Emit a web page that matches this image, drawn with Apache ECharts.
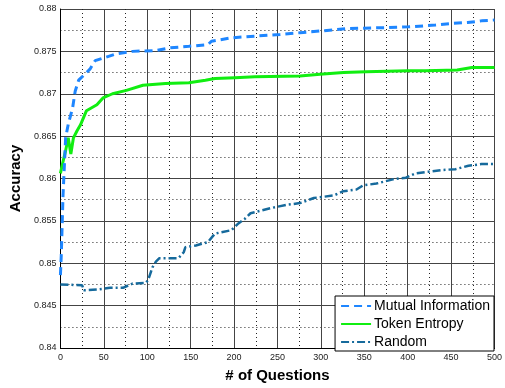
<!DOCTYPE html>
<html>
<head>
<meta charset="utf-8">
<script src="https://cdn.jsdelivr.net/npm/echarts@6/dist/echarts.min.js"></script>
<style>
  html, body { margin: 0; padding: 0; background: #fff; }
  #chart { width: 505px; height: 388px; }
</style>
</head>
<body>
<div id="chart"></div>
<script>
// Mutual Information
const miX = [0, 1, 3, 6, 9, 14, 17, 21, 26, 34, 40, 49, 64, 83, 110, 125, 148, 170, 174, 176, 197, 224, 253, 276, 299, 330, 375, 401, 432, 451, 469, 485, 500]
const miY = [0.8486, 0.851, 0.858, 0.8648, 0.8664, 0.8683, 0.8703, 0.8716, 0.8721, 0.8729, 0.8739, 0.8742, 0.8747, 0.8750, 0.8751, 0.8754, 0.8756, 0.8758, 0.8762, 0.8764, 0.8766, 0.8768, 0.8770, 0.8772, 0.8774, 0.8777, 0.8778, 0.8779, 0.8781, 0.8783, 0.8784, 0.8786, 0.8787]

// Token Entropy
const teX = [0, 3, 6, 9, 12, 15, 19, 23, 30, 42, 49, 60, 76, 95, 121, 148, 167, 178, 201, 224, 276, 299, 326, 352, 400, 420, 457, 474, 500]
const teY = [0.8606, 0.8620, 0.8633, 0.8648, 0.8629, 0.8648, 0.8656, 0.8663, 0.8680, 0.8687, 0.8695, 0.8700, 0.8704, 0.8710, 0.8712, 0.8713, 0.8716, 0.8718, 0.8719, 0.8720, 0.8721, 0.8723, 0.8725, 0.8726, 0.8727, 0.8727, 0.8728, 0.8731, 0.8731]

// Random
const rdX = [0, 25, 27, 42, 57, 72, 83, 99, 102, 106, 110, 114, 136, 142, 144, 156, 170, 178, 197, 205, 212, 219, 242, 261, 276, 292, 315, 326, 341, 349, 364, 383, 398, 409, 424, 440, 455, 470, 485, 500]
const rdY = [0.8475, 0.8474, 0.8468, 0.8469, 0.8471, 0.8471, 0.8476, 0.8477, 0.8483, 0.8495, 0.8502, 0.8506, 0.8506, 0.8513, 0.8519, 0.8521, 0.8525, 0.8535, 0.8539, 0.8547, 0.8552, 0.8559, 0.8565, 0.8569, 0.8571, 0.8577, 0.8580, 0.8585, 0.8587, 0.8592, 0.8594, 0.8599, 0.8601, 0.8606, 0.8608, 0.8610, 0.8611, 0.8615, 0.8617, 0.8617]

const seriesNames = ['Mutual Information', 'Token Entropy', 'Random']

function pairs(xs, ys) {
  return xs.map((x, i) => [x, ys[i]])
}

const font = 'Liberation Sans, Arial, Helvetica, sans-serif'

const chart = echarts.init(document.getElementById('chart'))

chart.setOption({
  animation: false,
  grid: { left: 60, right: 5, top: 9, bottom: 33, containLabel: false },
  xAxis: {
    type: 'value',
    min: 0,
    max: 500,
    interval: 50,
    name: '# of Questions',
    nameLocation: 'middle',
    nameGap: 20,
    nameTextStyle: { color: '#000', fontSize: 15, fontWeight: 'bold', fontFamily: font },
    axisLine: { lineStyle: { color: '#000', width: 1 } },
    axisTick: { show: false },
    axisLabel: { color: '#222', fontSize: 9, fontFamily: font, margin: 5 },
    splitLine: { show: true, lineStyle: { color: '#444', width: 1 } },
    minorTick: { show: false, splitNumber: 2 },
    minorSplitLine: { show: true, lineStyle: { color: '#222', width: 1, type: [1, 3] } },
  },
  yAxis: {
    type: 'value',
    min: 0.84,
    max: 0.88,
    interval: 0.005,
    name: 'Accuracy',
    nameLocation: 'middle',
    nameGap: 36,
    nameTextStyle: { color: '#000', fontSize: 15, fontWeight: 'bold', fontFamily: font },
    axisLine: { show: true, lineStyle: { color: '#000', width: 1 } },
    axisTick: { show: false },
    axisLabel: {
      color: '#222', fontSize: 9, fontFamily: font, margin: 4,
      formatter: v => String(parseFloat(v.toFixed(3))),
    },
    splitLine: { show: true, lineStyle: { color: '#444', width: 1 } },
    minorTick: { show: false, splitNumber: 2 },
    minorSplitLine: { show: true, lineStyle: { color: '#222', width: 1, type: [1, 3] } },
  },
  legend: {
    orient: 'vertical',
    right: 11,
    bottom: 37,
    itemWidth: 30,
    itemHeight: 10,
    itemGap: 4,
    padding: [3, 4, 2, 5],
    backgroundColor: '#fff',
    borderColor: '#000',
    borderWidth: 1,
    borderRadius: 0,
    itemStyle: { opacity: 0 },
    textStyle: { color: '#000', fontSize: 14, fontFamily: font, padding: [0, 0, 0, -2] },
    data: seriesNames,
  },
  series: [
    {
      name: seriesNames[0],
      type: 'line',
      showSymbol: false,
      symbol: 'none',
      data: pairs(miX, miY),
      itemStyle: { color: '#1e86ff' },
      lineStyle: { color: '#1e86ff', width: 3, type: [8, 5] },
      z: 3,
    },
    {
      name: seriesNames[1],
      type: 'line',
      showSymbol: false,
      symbol: 'none',
      data: pairs(teX, teY),
      itemStyle: { color: '#11ee11' },
      lineStyle: { color: '#11ee11', width: 3 },
      z: 2,
    },
    {
      name: seriesNames[2],
      type: 'line',
      showSymbol: false,
      symbol: 'none',
      data: pairs(rdX, rdY),
      itemStyle: { color: '#166a9c' },
      lineStyle: { color: '#166a9c', width: 2.5, type: [8, 3, 2, 3] },
      z: 2,
    },
  ],
})
</script>
</body>
</html>
